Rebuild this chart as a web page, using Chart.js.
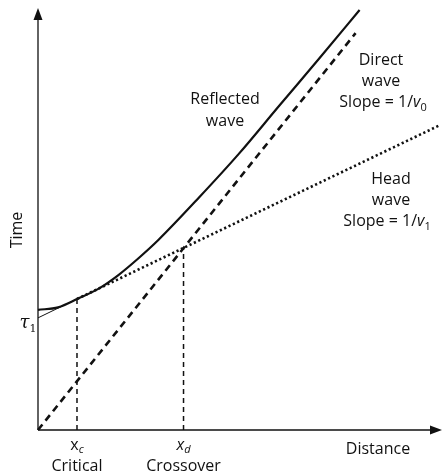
<!DOCTYPE html>
<html>
<head>
<meta charset="utf-8">
<script src="https://cdn.jsdelivr.net/npm/chart.js@4.4.1/dist/chart.umd.min.js"></script>
<style>
  html, body { margin: 0; padding: 0; background: #fff; }
</style>
</head>
<body>
<canvas id="chart" width="442" height="476"></canvas>
<script>
// ========================
// DATA (arbitrary units 0..100)
// ========================
const reflectedDistance = [0, 5, 10, 15, 20, 25, 30, 40, 50, 60, 70, 80];
const reflectedTime = [28.6, 29.2, 31.3, 33.6, 36.9, 40.9, 45.3, 55.3, 65.8, 77.2, 88.5, 100];
const directDistance = [0, 79];
const directTime = [0, 94.5];
const headDistance = [9.7, 100];
const headTime = [31.2, 72.6];
const interceptDistance = [0, 9.7];
const interceptTime = [26.7, 31.2];
const criticalDistance = [9.7, 9.7];
const criticalTime = [0, 31.2];
const crossoverDistance = [36.2, 36.2];
const crossoverTime = [0, 43.4];

const FONT = '"Open Sans", "Noto Sans", sans-serif';
const INK = "#111";

function pts(xs, ys) {
  return xs.map((x, i) => ({ x: x, y: ys[i] }));
}

// draw a line of mixed pieces (normal / italic / subscript) centred on cx
function richText(ctx, cx, cy, parts) {
  let total = 0;
  parts.forEach(p => {
    ctx.font = p.font;
    p.w = ctx.measureText(p.t).width;
    total += p.w;
  });
  let x = cx - total / 2;
  ctx.textAlign = "left";
  ctx.textBaseline = "alphabetic";
  parts.forEach(p => {
    ctx.font = p.font;
    ctx.fillText(p.t, x, cy + (p.dy || 0));
    x += p.w;
  });
}

// ========================
// AXES + TEXT PLUGIN
// ========================
const decorations = {
  id: "decorations",
  afterDatasetsDraw(chart) {
    const ctx = chart.ctx;
    const xs = chart.scales.x;
    const ys = chart.scales.y;
    const ox = xs.getPixelForValue(0);
    const oy = ys.getPixelForValue(0);
    const top = ys.getPixelForValue(100);
    const right = xs.getPixelForValue(100);

    ctx.save();
    ctx.strokeStyle = INK;
    ctx.fillStyle = INK;
    ctx.lineWidth = 1.3;

    // axes
    ctx.beginPath();
    ctx.moveTo(ox, oy);
    ctx.lineTo(ox, top + 6);
    ctx.moveTo(ox, oy);
    ctx.lineTo(right - 6, oy);
    ctx.stroke();

    // arrow heads
    ctx.beginPath();
    ctx.moveTo(ox, top - 2);
    ctx.lineTo(ox - 4.5, top + 10);
    ctx.lineTo(ox + 4.5, top + 10);
    ctx.closePath();
    ctx.fill();
    ctx.beginPath();
    ctx.moveTo(right + 2, oy);
    ctx.lineTo(right - 10, oy - 4.5);
    ctx.lineTo(right - 10, oy + 4.5);
    ctx.closePath();
    ctx.fill();

    const f16 = "16px " + FONT;
    const i16 = "italic 16px " + FONT;
    const s11 = "11px " + FONT;
    const si11 = "italic 11px " + FONT;

    // curve labels
    richText(ctx, 225, 104, [{ t: "Reflected", font: f16 }]);
    richText(ctx, 225, 126, [{ t: "wave", font: f16 }]);

    richText(ctx, 381, 65, [{ t: "Direct", font: f16 }]);
    richText(ctx, 381, 86, [{ t: "wave", font: f16 }]);
    richText(ctx, 383, 107, [{ t: "Slope = 1/", font: f16 }, { t: "v", font: i16 }, { t: "0", font: s11, dy: 4 }]);

    richText(ctx, 391, 184, [{ t: "Head", font: f16 }]);
    richText(ctx, 391, 205, [{ t: "wave", font: f16 }]);
    richText(ctx, 387, 226, [{ t: "Slope = 1/", font: f16 }, { t: "v", font: i16 }, { t: "1", font: s11, dy: 4 }]);

    // axis labels
    richText(ctx, 378, 454, [{ t: "Distance", font: f16 }]);
    ctx.save();
    ctx.translate(22, 230);
    ctx.rotate(-Math.PI / 2);
    richText(ctx, 0, 0, [{ t: "Time", font: f16 }]);
    ctx.restore();

    // tau 1
    richText(ctx, 28, 328, [
      { t: "\u03c4", font: "italic 18px \"DejaVu Serif\", serif" },
      { t: "1", font: "11px \"DejaVu Serif\", serif", dy: 4 }
    ]);

    // x_c and x_d
    const xc = xs.getPixelForValue(criticalDistance[0]);
    const xd = xs.getPixelForValue(crossoverDistance[0]);
    richText(ctx, xc, 450, [{ t: "x", font: f16 }, { t: "c", font: si11, dy: 3 }]);
    richText(ctx, xc, 471, [{ t: "Critical", font: f16 }]);
    richText(ctx, xd, 450, [{ t: "x", font: i16 }, { t: "d", font: si11, dy: 3 }]);
    richText(ctx, xd, 471, [{ t: "Crossover", font: f16 }]);

    ctx.restore();
  }
};

// ========================
// CHART
// ========================
const ctx = document.getElementById("chart").getContext("2d");
new Chart(ctx, {
  type: "scatter",
  data: {
    datasets: [
      {
        label: "Reflected wave",
        data: pts(reflectedDistance, reflectedTime),
        showLine: true,
        borderColor: INK,
        borderWidth: 2.2,
        cubicInterpolationMode: "monotone",
        pointRadius: 0
      },
      {
        label: "Direct wave",
        data: pts(directDistance, directTime),
        showLine: true,
        borderColor: INK,
        borderWidth: 2.6,
        borderDash: [7, 5],
        pointRadius: 0
      },
      {
        label: "Head wave",
        data: pts(headDistance, headTime),
        showLine: true,
        borderColor: INK,
        borderWidth: 2.6,
        borderDash: [2.2, 2.6],
        pointRadius: 0
      },
      {
        label: "Intercept",
        data: pts(interceptDistance, interceptTime),
        showLine: true,
        borderColor: INK,
        borderWidth: 1,
        pointRadius: 0
      },
      {
        label: "Critical",
        data: pts(criticalDistance, criticalTime),
        showLine: true,
        borderColor: INK,
        borderWidth: 1.5,
        borderDash: [5, 4],
        pointRadius: 0
      },
      {
        label: "Crossover",
        data: pts(crossoverDistance, crossoverTime),
        showLine: true,
        borderColor: INK,
        borderWidth: 1.5,
        borderDash: [5, 4],
        pointRadius: 0
      }
    ]
  },
  options: {
    responsive: false,
    animation: false,
    devicePixelRatio: 1,
    clip: false,
    layout: { padding: { left: 38, right: 2, top: 10, bottom: 46 } },
    plugins: {
      legend: { display: false },
      tooltip: { enabled: false }
    },
    scales: {
      x: { type: "linear", min: 0, max: 100, display: false },
      y: { type: "linear", min: 0, max: 100, display: false }
    }
  },
  plugins: [decorations]
});
</script>
</body>
</html>
